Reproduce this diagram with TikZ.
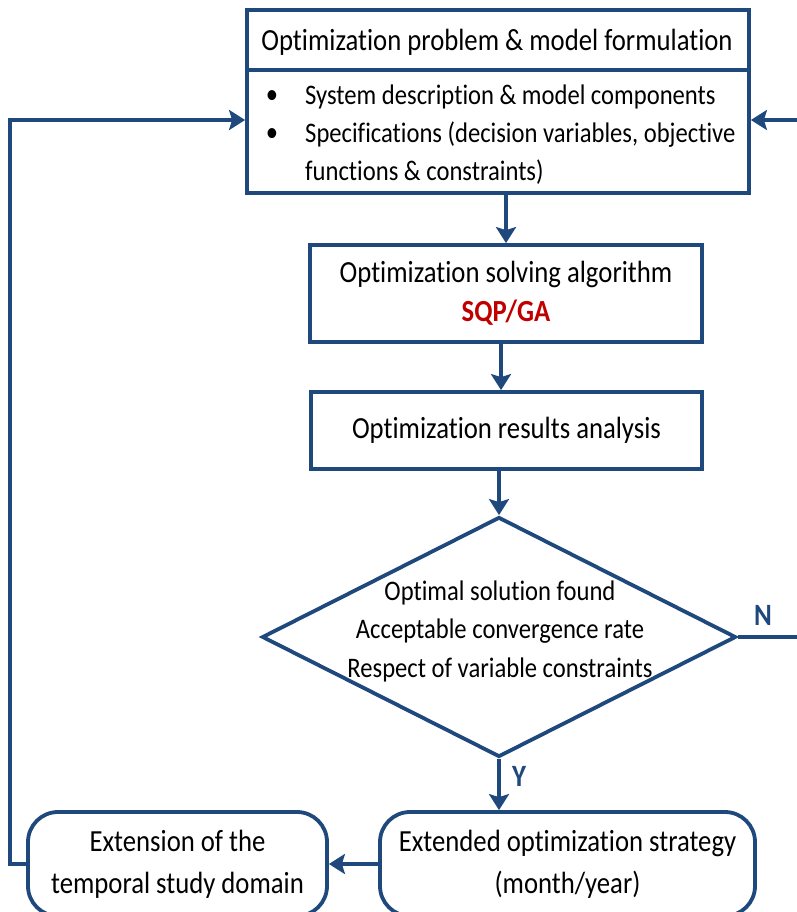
\documentclass[tikz,border=0pt]{standalone}
\usepackage{fontspec}
\setmainfont[FakeStretch=0.87,Ligatures=NoCommon]{Carlito}
\usetikzlibrary{arrows.meta,shapes.geometric}
\definecolor{fblue}{RGB}{31,73,125}
\definecolor{fred}{RGB}{192,0,0}
\tikzset{
  box/.style={draw=fblue, line width=3.8pt, rectangle, inner sep=0pt, align=center,
    font=\fontsize{30.7}{39}\selectfont},
  rbox/.style={box, rounded corners=30pt, font=\fontsize{30.7}{42}\selectfont},
  dia/.style={draw=fblue, line width=3.8pt, diamond, inner sep=0pt},
  txt/.style={inner sep=0pt, font=\fontsize{30.7}{34}\selectfont},
  stxt/.style={inner sep=0pt, font=\fontsize{28.3}{38.5}\selectfont, align=center},
  lbl/.style={inner sep=0pt, text=fblue, font=\bfseries\fontsize{31}{32}\selectfont},
  arr/.style={draw=fblue, line width=3.6pt, -{Stealth[length=16pt,width=20pt,inset=3pt]}},
}
\begin{document}
\begin{tikzpicture}[x=1pt,y=-1pt]
\useasboundingbox (0,0) rectangle (796,912);
% top box
\node[box, minimum width=502pt, minimum height=183pt] (top) at (498,101.5) {};
\coordinate (dl) at (top.west |- 0,70);
\coordinate (dr) at (top.east |- 0,70);
\draw[draw=fblue, line width=3.8pt] (dl) -- (dr);
\node[txt] (title) at (497,42) {Optimization problem \& model formulation};
\node[stxt] (b1) at (272,97) {•};
\node[stxt] (b2d) at (272,135) {•};
\node[stxt, anchor=west] (l1) at (305,97) {System description \& model components};
\node[stxt, anchor=west] (l2) at (305,135) {Specifications (decision variables, objective};
\node[stxt, anchor=west] (l3) at (305,172) {functions \& constraints)};
% solving box
\node[box, minimum width=392pt, minimum height=97pt] (b2) at (506,293.5)
  {Optimization solving algorithm\\{\color{fred}\bfseries SQP/GA}};
% results box
\node[box, minimum width=391pt, minimum height=77pt] (b3) at (506.5,430.5)
  {Optimization results analysis};
% decision
\node[dia, minimum width=474pt, minimum height=240pt] (d) at (499,637) {};
\node[stxt] (dt) at (500,631) {Optimal solution found\\Acceptable convergence rate\\Respect of variable constraints};
% bottom boxes
\node[rbox, minimum width=375pt, minimum height=104pt] (b4) at (567.5,864)
  {Extended optimization strategy\\(month/year)};
\node[rbox, minimum width=299pt, minimum height=104pt] (b5) at (177.5,864)
  {Extension of the\\temporal study domain};
% labels
\node[lbl] (N) at (763,615) {N};
\node[lbl] (Y) at (519,776) {Y};
% connectors
\draw[arr] (top.south -| b2.north) -- (b2.north);
\draw[arr] (b2.south -| 501,0) -- (b3.north -| 501,0);
\draw[arr] (b3.south -| d.north) -- (d.north);
\draw[arr] (d.south) -- (d.south |- b4.north);
\draw[arr] (b4.west) -- (b5.east);
\coordinate (rA) at (806,0);
\draw[arr] (d.east) -- (d.east -| rA) |- (top.east |- 0,120);
\draw[arr] (b5.west) -- ++(-16,0) |- (top.west |- 0,120);
\end{tikzpicture}
\end{document}
